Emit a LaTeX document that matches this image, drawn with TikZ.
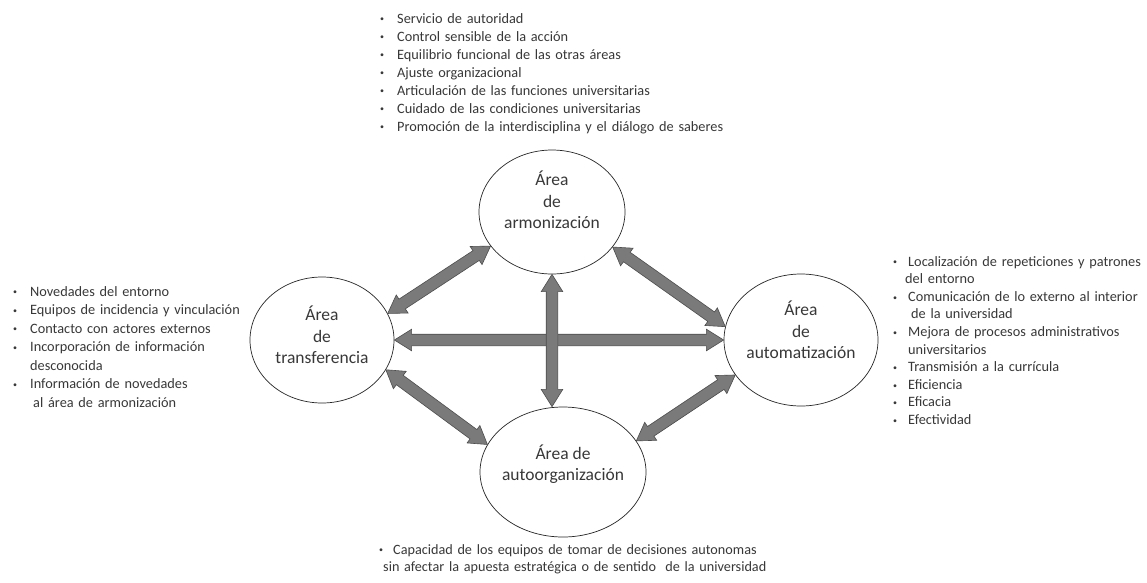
\documentclass[tikz,border=0pt]{standalone}
\usepackage{fontspec}
\setmainfont{Carlito}
\usetikzlibrary{shapes.geometric,shapes.arrows,calc}
\definecolor{txt}{HTML}{383838}
\definecolor{arrfill}{HTML}{7A7A7A}
\definecolor{arrdraw}{HTML}{4D4D4D}
\newcommand{\bu}[1][16pt]{\makebox[#1][l]{\raisebox{1.2pt}{\fontsize{8}{8}\selectfont\textbullet}}}
\newcommand{\blkarrow}[2]{%
  \path let \p1=(#1), \p2=(#2),
    \n1={atan2(\y2-\y1,\x2-\x1)}, \n2={veclen(\x2-\x1,\y2-\y1)} in
    node[blk, minimum height=\n2, rotate=\n1] at ($(#1)!0.5!(#2)$) {};}
\begin{document}
\begin{tikzpicture}[x=1pt,y=-1pt,
  area/.style={ellipse, draw=black!85, line width=0.7pt, inner sep=0pt},
  lbl/.style={align=center, font=\fontsize{17.5}{21.5}\selectfont, text=txt, inner sep=0pt},
  lst/.style={anchor=base west, align=left, text width=420pt, inner sep=0pt, text=txt},
  blk/.style={double arrow, draw=arrdraw, fill=arrfill, line width=0.6pt,
    inner sep=5.5pt, double arrow head extend=5pt, double arrow tip angle=64}]
\useasboundingbox[fill=white] (0,0) rectangle (1147,582);

% areas
\node[area, minimum width=146pt, minimum height=124pt] (top) at (552,212) {};
\node[area, minimum width=144pt, minimum height=126pt] (left) at (322,340) {};
\node[area, minimum width=154pt, minimum height=132pt] (right) at (801,340) {};
\node[area, minimum width=166pt, minimum height=130pt] (bot) at (563,472) {};

\node[lbl] (ltop) at (552,200) {Área\\de\\armonización};
\node[lbl] (lleft) at (322,335) {Área\\de\\transferencia};
\node[lbl] (lright) at (801,330) {Área\\de\\automatización};
\node[lbl] (lbot) at (563,464) {Área de\\autoorganización};

% arrows
\coordinate (vb) at (top.south |- bot.north);
\blkarrow{left.east}{right.west}
\blkarrow{top.south}{vb}
\blkarrow{left.22}{top.209}
\blkarrow{top.330}{right.170}
\blkarrow{left.335}{bot.160}
\blkarrow{bot.23}{right.208}

% lists
\node[lst, font=\fontsize{14.3}{18}\selectfont] (ltopl) at (380,23) {%
\bu[17pt]Servicio de autoridad\\
\bu[17pt]Control sensible de la acción\\
\bu[17pt]Equilibrio funcional de las otras áreas\\
\bu[17pt]Ajuste organizacional\\
\bu[17pt]Articulación de las funciones universitarias\\
\bu[17pt]Cuidado de las condiciones universitarias\\
\bu[17pt]Promoción de la interdisciplina y el diálogo de saberes};

\node[lst, font=\fontsize{14.3}{18.5}\selectfont] (lleftl) at (13,296) {%
\bu[17pt]Novedades del entorno\\
\bu[17pt]Equipos de incidencia y vinculación\\
\bu[17pt]Contacto con actores externos\\
\bu[17pt]Incorporación de información\\
\hspace*{17pt}desconocida\\
\bu[17pt]Información de novedades\\
\hspace*{20pt}al área de armonización};

\node[lst, font=\fontsize{14.3}{17.6}\selectfont] (lrightl) at (893,266) {%
\bu[15pt]Localización de repeticiones y patrones\\
\hspace*{12pt}del entorno\\
\bu[15pt]Comunicación de lo externo al interior\\
\hspace*{18pt}de la universidad\\
\bu[15pt]Mejora de procesos administrativos\\
\hspace*{15pt}universitarios\\
\bu[15pt]Transmisión a la currícula\\
\bu[15pt]Eficiencia\\
\bu[15pt]Eficacia\\
\bu[15pt]Efectividad};

\node[lst, font=\fontsize{14.2}{17}\selectfont] (lbotl) at (379,554) {%
\bu[14pt]Capacidad de los equipos de tomar de decisiones autonomas\\
\hspace*{4pt}sin afectar la apuesta estratégica o de sentido\ \ de la universidad};
\end{tikzpicture}
\end{document}
